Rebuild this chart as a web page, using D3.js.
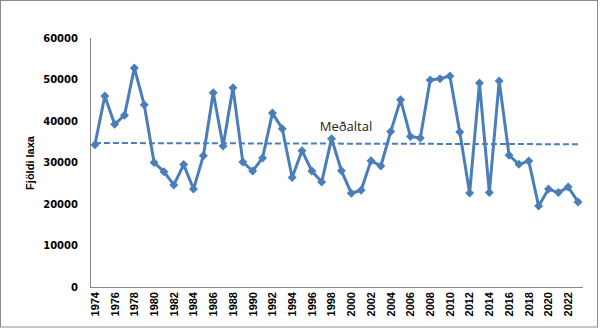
<!DOCTYPE html>
<html><head><meta charset="utf-8">
<script src="https://cdn.jsdelivr.net/npm/d3@7"></script>
<style>body{margin:0;background:#fff}svg{display:block}</style>
</head><body>
<script>
const years = d3.range(1974, 2024);
const values = [34300,46000,39200,41400,52800,43900,30000,27800,24600,29500,
23600,31650,46800,34000,48000,30100,27950,31100,41900,38150,
26400,32850,27950,25300,35750,28000,22600,23300,30450,29150,
37450,45150,36250,35900,49900,50200,50850,37350,22650,49150,
22750,49650,31750,29550,30350,19500,23600,22750,24100,20500];
const meanEnds = [34700, 34400];
const meanLabel = "Meðaltal";
const yTicks = [0,10000,20000,30000,40000,50000,60000];
const tickYears = years.filter(y => (y - 1974) % 2 === 0);
const yTitle = "Fjöldi laxa";

const W = 600, H = 330;
const svg = d3.select("body").append("svg").attr("width", W).attr("height", H);
svg.append("rect").attr("x",0.5).attr("y",0.5).attr("width",597).attr("height",326.5)
  .attr("fill","#fff").attr("stroke","#8c8c8c");

const x = d3.scaleBand().domain(years).range([90, 583]);
const y = d3.scaleLinear().domain([0,60000]).range([287, 38]);
const cx = d => x(d) + x.bandwidth()/2;
const col = "#4a7ebb";
const font = "'Liberation Sans', Arial, sans-serif";

// axes
svg.append("line").attr("x1",90.5).attr("x2",90.5).attr("y1",38).attr("y2",287).attr("stroke","#868686");
svg.append("line").attr("x1",90).attr("x2",583).attr("y1",287.5).attr("y2",287.5).attr("stroke","#868686");

svg.append("g").selectAll("text").data(yTicks).join("text")
  .attr("x",78).attr("y",d=>y(d)).attr("dy","0.35em").attr("text-anchor","end")
  .attr("font-family","'DejaVu Sans', sans-serif").attr("font-size",10).attr("font-weight","bold").attr("fill","#000")
  .text(d=>d);

svg.append("g").selectAll("text").data(tickYears).join("text")
  .attr("transform",d=>`translate(${cx(d)},292) rotate(-90)`)
  .attr("text-anchor","end").attr("dy","0.35em")
  .attr("font-family",font).attr("font-size",11).attr("font-weight","bold").attr("fill","#000")
  .text(d=>d);

svg.append("text").attr("transform","translate(34,163) rotate(-90)").attr("text-anchor","middle")
  .attr("font-family",font).attr("font-size",11).attr("font-weight","bold").text(yTitle);

// mean line
svg.append("line").attr("x1",cx(years[0])).attr("x2",cx(years[years.length-1]))
  .attr("y1",y(meanEnds[0])).attr("y2",y(meanEnds[1]))
  .attr("stroke",col).attr("stroke-width",2).attr("stroke-dasharray","6,3");

// data line
const line = d3.line().x((d,i)=>cx(years[i])).y(d=>y(d));
svg.append("path").datum(values).attr("d",line).attr("fill","none")
  .attr("stroke",col).attr("stroke-width",3).attr("stroke-linejoin","round");

svg.append("g").selectAll("path").data(values).join("path")
  .attr("transform",(d,i)=>`translate(${cx(years[i])},${y(d)})`)
  .attr("d","M0,-4.5L4.5,0L0,4.5L-4.5,0Z").attr("fill",col);

svg.append("text").attr("x",346).attr("y",131).attr("text-anchor","middle")
  .attr("font-family","'Open Sans', 'DejaVu Sans', sans-serif").attr("font-size",13).attr("fill","#222")
  .text(meanLabel);
</script>
</body></html>
